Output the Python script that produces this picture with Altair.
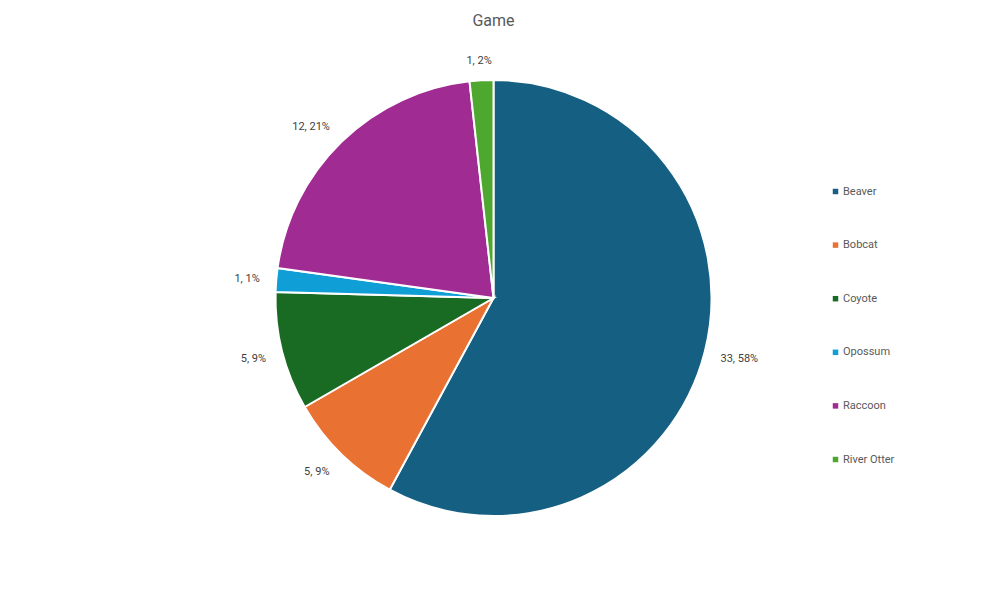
import altair as alt
import pandas as pd

animals = ["Beaver", "Bobcat", "Coyote", "Opossum", "Raccoon", "River Otter"]
counts = [33, 5, 5, 1, 12, 1]
percent_labels = ["58%", "9%", "9%", "1%", "21%", "2%"]
colors = ["#156082", "#E97132", "#196B24", "#0F9ED5", "#A02B93", "#4EA72E"]

df = pd.DataFrame({
    "Animal": animals,
    "Count": counts,
    "Order": list(range(len(animals))),
    "Label": [f"{c}, {p}" for c, p in zip(counts, percent_labels)],
})

OUTER = 218
GAP = 15
color_scale = alt.Scale(domain=animals, range=colors)

pie = alt.Chart(df).mark_arc(outerRadius=OUTER, stroke="white", strokeWidth=2).encode(
    theta=alt.Theta("Count:Q", stack=True),
    order=alt.Order("Order:Q", sort="ascending"),
    color=alt.Color(
        "Animal:N",
        scale=color_scale,
        sort=animals,
        legend=alt.Legend(
            title=None,
            orient="none",
            legendX=822,
            legendY=138,
            symbolType="square",
            symbolSize=30,
            symbolStrokeWidth=0,
            labelFont="Roboto",
            labelFontSize=11,
            labelColor="#595959",
            rowPadding=41.6,
            labelOffset=2,
        ),
    ),
)

# Label box placed just outside the slice, at its middle angle (like a spreadsheet's
# "outside end" labels); converted back to polar coordinates for theta/radius.
labels = (
    alt.Chart(df)
    .transform_joinaggregate(total="sum(Count)")
    .transform_window(cum="sum(Count)", sort=[alt.SortField("Order")])
    .transform_calculate(
        mid="(datum.cum - datum.Count / 2) / datum.total * 2 * PI",
        hw="length(datum.Label) * 5.7 / 2",
    )
    .transform_calculate(
        px=f"{OUTER + GAP} * sin(datum.mid) + datum.hw * clamp(2 * sin(datum.mid), -1, 1)",
        py=f"-{OUTER + GAP} * cos(datum.mid) - 5.5 * clamp(2 * cos(datum.mid), -1, 1) + 1.5",
    )
    .transform_calculate(
        ltheta="atan2(datum.px, -datum.py)",
        lrad="sqrt(datum.px * datum.px + datum.py * datum.py)",
    )
    .mark_text(font="Roboto", fontSize=11, color="#404040")
    .encode(
        theta=alt.Theta("ltheta:Q", scale=None),
        radius=alt.Radius("lrad:Q", scale=None),
        text="Label:N",
    )
)

chart = (
    (pie + labels)
    .properties(
        width=971,
        height=500,
        autosize=alt.AutoSizeParams(type="none"),
        padding={"left": 0, "right": 0, "top": 40, "bottom": 36},
        title=alt.TitleParams(
            "Game",
            font="Roboto",
            fontSize=16,
            fontWeight="normal",
            color="#595959",
            anchor="middle",
            offset=19,
        ),
    )
    .configure_view(stroke=None)
)

chart.save("out.html", embed_options={"renderer": "svg", "actions": False})
